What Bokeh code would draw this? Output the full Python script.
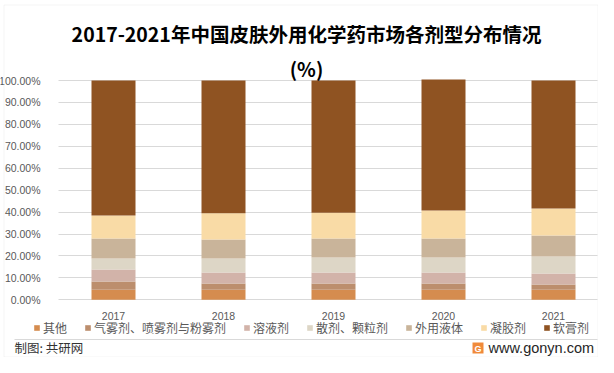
from bokeh.plotting import figure
from bokeh.models import (ColumnDataSource, Range1d, NumeralTickFormatter, FixedTicker,
                          Legend, LegendItem, Label, BoxAnnotation, Grid)
from bokeh.embed import file_html
from bokeh.resources import INLINE

years = ["2017", "2018", "2019", "2020", "2021"]
series = ["其他", "气雾剂、喷雾剂与粉雾剂", "溶液剂", "散剂、颗粒剂", "外用液体", "凝胶剂", "软膏剂"]
qita = [0.046, 0.046, 0.046, 0.046, 0.046]
qiwu = [0.037, 0.028, 0.028, 0.028, 0.024]
rongye = [0.055, 0.050, 0.050, 0.050, 0.050]
sanji = [0.050, 0.064, 0.069, 0.069, 0.077]
waiyong = [0.092, 0.087, 0.087, 0.087, 0.096]
ningjiao = [0.104, 0.120, 0.117, 0.127, 0.123]
ruangao = [0.616, 0.605, 0.603, 0.597, 0.584]
y_ticks = [0.0, 0.1, 0.2, 0.3, 0.4, 0.5, 0.6, 0.7, 0.8, 0.9, 1.0]
colors = ["#D58C4F", "#BC8E6D", "#D2B3A9", "#DDD6C6", "#C9B49A", "#F9DBA6", "#8F5322"]
title_line1 = "2017-2021年中国皮肤外用化学药市场各剂型分布情况"
title_line2 = "(%)"
source_note = "制图: 共研网"
site = "www.gonyn.com"

xi = list(range(len(years)))
keys = ["s0", "s1", "s2", "s3", "s4", "s5", "s6"]
source = ColumnDataSource(dict(xi=xi, s0=qita, s1=qiwu, s2=rongye, s3=sanji,
                               s4=waiyong, s5=ningjiao, s6=ruangao))

CJK = "Noto Sans CJK SC"
LAT = "Liberation Sans"
W, H = 598, 357
# plot-area geometry (canvas pixels, from top-left)
X0 = 113.0      # centre of first category
STEP = 110.0    # px per category
Y_ZERO = 299.3  # 0 %
Y_FULL = 80.0   # 100 %
SC = Y_ZERO - Y_FULL
GRID_L = (58 - X0) / STEP
GRID_R = (597 - X0) / STEP

p = figure(width=W, height=H, output_backend="svg", toolbar_location=None,
           x_range=Range1d(-X0 / STEP, (W - X0) / STEP),
           y_range=Range1d(-(H - Y_ZERO) / SC, 1 + Y_FULL / SC),
           min_border=0, min_border_left=0, min_border_right=0,
           min_border_top=0, min_border_bottom=0)
p.title = None
p.outline_line_color = None
p.background_fill_color = "white"
p.border_fill_color = "white"

renderers = p.vbar_stack(keys, x="xi", width=0.4, source=source, color=colors, line_color=None)

# axes drawn inside the canvas at fixed locations
p.yaxis.fixed_location = GRID_L
p.yaxis.ticker = FixedTicker(ticks=y_ticks)
p.yaxis.formatter = NumeralTickFormatter(format="0.00%")
p.yaxis.axis_line_color = None
p.yaxis.major_tick_line_color = None
p.yaxis.minor_tick_line_color = None
p.yaxis.major_label_standoff = 12
p.yaxis.major_label_text_font = LAT
p.yaxis.major_label_text_font_size = "10.5px"
p.yaxis.major_label_text_color = "#595959"

p.xaxis.fixed_location = 0
p.xaxis.ticker = FixedTicker(ticks=xi)
p.xaxis.major_label_overrides = {i: y for i, y in zip(xi, years)}
p.xaxis.axis_line_color = None
p.xaxis.major_tick_line_color = None
p.xaxis.minor_tick_line_color = None
p.xaxis.major_label_standoff = 6
p.xaxis.major_label_text_font = LAT
p.xaxis.major_label_text_font_size = "10.5px"
p.xaxis.major_label_text_color = "#595959"

p.xgrid.grid_line_color = None
if "cross_bounds" in Grid.properties():
    p.ygrid.grid_line_color = "#D9D9D9"
    p.ygrid.cross_bounds = (GRID_L, GRID_R)
else:
    p.ygrid.grid_line_color = None
    p.segment(x0=[GRID_L] * len(y_ticks), x1=[GRID_R] * len(y_ticks), y0=y_ticks, y1=y_ticks,
              line_color="#D9D9D9", line_width=1, level="underlay")

items = [LegendItem(label=s, renderers=[r]) for s, r in zip(series, renderers)]
legend = Legend(items=items, orientation="horizontal", location=(33, 21),
                glyph_width=7, glyph_height=7, label_standoff=3, spacing=17,
                padding=0, margin=0, border_line_alpha=0, background_fill_alpha=0,
                label_text_font=CJK, label_text_font_size="12px", label_text_color="#595959",
                label_height=14)
p.add_layout(legend, "center")


def scr_label(x, y_top, text, **kw):
    p.add_layout(Label(x=x, y=H - y_top, x_units="screen", y_units="screen", text=text,
                       text_baseline="middle", **kw))


def scr_box(l, r, t, b, **kw):
    p.add_layout(BoxAnnotation(left=l, right=r, top=H - t, bottom=H - b,
                               left_units="screen", right_units="screen",
                               top_units="screen", bottom_units="screen", **kw))


scr_label(306, 33, title_line1, text_font=CJK, text_font_style="bold", text_font_size="19.5px",
          text_color="#000000", text_align="center")
scr_label(306, 68, title_line2, text_font=CJK, text_font_style="bold", text_font_size="19.5px",
          text_color="#000000", text_align="center")

# separator and outer frame
scr_box(14, 597, 338.5, 339.5, fill_color="#D9D9D9", fill_alpha=1, line_color=None)
scr_box(3.5, 597.5, 4.5, 356.5, fill_alpha=0, line_color="#D9D9D9", line_width=1)

scr_label(14, 347, source_note, text_font=CJK, text_font_size="12.5px", text_color="#333333",
          text_align="left")
scr_box(472, 483, 342, 353, fill_color="#F08A3A", fill_alpha=1, line_color=None)
scr_label(477.5, 348, "G", text_font=LAT, text_font_style="bold", text_font_size="9px",
          text_color="white", text_align="center")
scr_label(488, 347.5, site, text_font=LAT, text_font_size="14.5px", text_color="#262626",
          text_align="left")

open("out.html", "w").write(file_html(p, INLINE))
